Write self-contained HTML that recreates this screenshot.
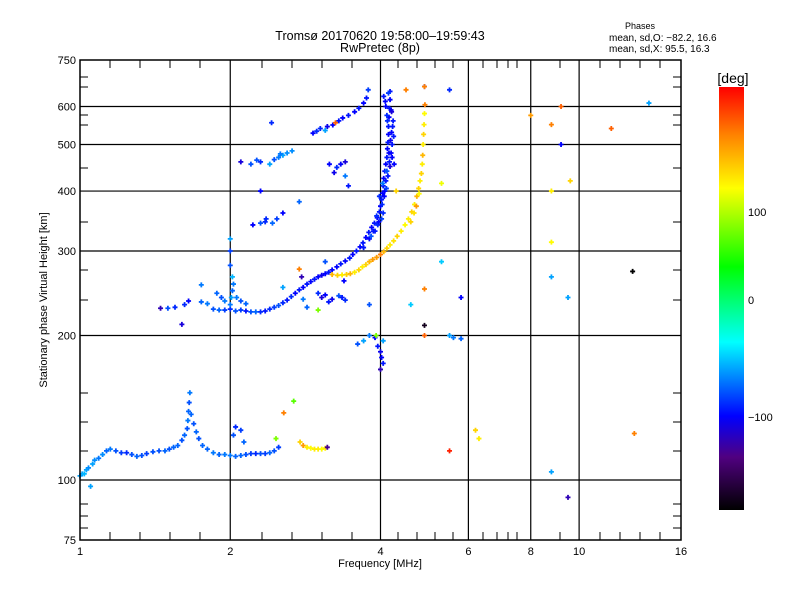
<!DOCTYPE html>
<html><head><meta charset="utf-8"><style>
body{margin:0;background:#fff;}
svg{display:block;font-family:"Liberation Sans",sans-serif;}
</style></head><body>
<svg id="chart" width="800" height="600" viewBox="0 0 800 600" xmlns="http://www.w3.org/2000/svg">
<defs>
<linearGradient id="cbar" x1="0" y1="1" x2="0" y2="0">
<stop offset="0" stop-color="#000000"/>
<stop offset="0.125" stop-color="#500080"/>
<stop offset="0.222" stop-color="#0000ff"/>
<stop offset="0.397" stop-color="#00ffff"/>
<stop offset="0.575" stop-color="#00ff00"/>
<stop offset="0.761" stop-color="#ffff00"/>
<stop offset="0.889" stop-color="#ff8000"/>
<stop offset="1" stop-color="#ff0000"/>
</linearGradient>
</defs>
<text x="380" y="40" font-size="12.5" text-anchor="middle">Tromsø 20170620 19:58:00–19:59:43</text>
<text x="380" y="52" font-size="12.5" text-anchor="middle">RwPretec (8p)</text>
<text x="640" y="29" font-size="9" text-anchor="middle">Phases</text>
<text x="609" y="41" font-size="10">mean, sd,O: −82.2, 16.6</text>
<text x="609" y="52" font-size="10">mean, sd,X:  95.5, 16.3</text>
<g id="grid"></g>
<g id="ticks"></g>
<g id="marks"></g>
<rect x="80" y="60" width="601" height="480" fill="none" stroke="#000" stroke-width="1.5"/>
<text x="380" y="567" font-size="11" text-anchor="middle">Frequency [MHz]</text>
<text transform="translate(47,300) rotate(-90)" font-size="11" text-anchor="middle">Stationary phase Virtual Height [km]</text>
<rect x="719" y="87" width="25" height="423" fill="url(#cbar)"/>
<text x="733" y="83" font-size="14" text-anchor="middle">[deg]</text>
<text x="748" y="216" font-size="11">100</text>
<text x="748" y="304" font-size="11">0</text>
<text x="748" y="421" font-size="11">−100</text>
</svg>
<script>
const xTickVals=[1,2,4,6,8,10,16];
const yTickVals=[75,100,200,300,400,500,600,750];
const xGridVals=[2,4,6,8,10];
const yGridVals=[100,200,300,400,500,600];
const freq=[1.00,1.01,1.02,1.03,1.04,1.06,1.07,1.09,1.11,1.13,1.15,1.18,1.21,1.24,1.27,1.30,1.33,1.36,1.40,1.44,1.48,1.51,1.54,1.57,1.60,1.62,1.64,1.645,1.65,1.655,1.66,1.67,1.69,1.71,1.73,1.76,1.80,1.85,1.90,1.95,2.00,2.05,2.10,2.15,2.20,2.25,2.30,2.35,2.40,2.45,2.50,
2.76,2.80,2.85,2.90,2.95,3.00,3.05,3.10,3.13,2.03,2.05,2.10,2.13,2.56,2.68,2.47,
1.85,1.90,1.95,2.00,2.05,2.10,2.15,2.20,2.25,2.30,2.35,2.40,2.45,2.50,2.55,2.60,2.65,2.70,2.75,2.80,2.85,2.90,2.95,3.00,3.05,3.10,3.15,3.20,3.27,3.33,3.40,3.47,3.52,3.58,3.64,3.69,3.74,3.79,3.84,3.89,3.94,3.98,4.00,4.02,4.04,4.05,4.06,4.08,4.10,4.12,4.13,4.14,4.15,4.15,4.16,4.17,4.18,4.18,
3.95,3.90,4.08,4.10,4.12,4.17,4.20,4.22,4.21,4.24,4.20,4.05,3.80,3.70,3.98,
4.03,4.07,4.11,4.14,4.18,4.22,4.25,4.13,4.10,4.06,4.02,3.97,3.93,3.87,3.83,4.16,4.19,4.23,4.12,4.09,4.15,4.21,4.26,4.04,
2.00,2.01,2.02,2.03,2.02,2.00,2.00,2.00,1.95,1.92,1.88,2.06,2.10,2.15,1.80,1.75,
1.45,1.50,1.55,1.62,1.65,1.75,1.60,
3.20,3.28,3.35,3.42,3.48,3.55,3.62,3.68,3.74,3.80,3.86,3.93,4.00,4.06,4.12,4.18,4.25,4.32,4.40,4.48,4.55,4.62,4.68,4.73,4.77,4.80,4.83,4.85,4.86,4.87,4.88,4.89,4.90,4.91,4.60,4.72,4.78,4.67,
2.93,3.03,3.13,3.21,3.30,3.36,3.45,3.55,3.62,3.70,3.75,3.78,2.98,3.10,3.25,
2.26,2.30,2.40,2.45,2.50,2.55,2.60,2.10,2.20,2.30,2.35,2.43,2.48,2.55,2.22,2.75,3.27,3.33,3.40,3.23,3.40,3.45,2.42,2.30,
2.36,2.52,2.66,3.16,
3.00,3.05,3.10,3.15,3.20,3.30,3.35,3.40,2.80,2.85,3.00,2.75,2.78,3.10,3.38,3.80,
3.90,3.95,4.00,4.02,4.05,4.00,3.92,4.05,3.80,3.60,3.70,5.50,5.60,5.80,5.80,4.90,4.90,4.90,5.30,4.90,5.50,4.50,4.90,4.30,5.30,6.20,6.30,5.50,8.00,8.80,9.20,9.20,9.60,8.80,8.80,8.80,9.50,11.6,12.8,12.9,13.8,8.80,9.50,1.05,4.60,2.55];
const height=[102,103,103,105,106,108,110,111,113,115,116,115,114,114,113,112,112.5,113.5,114.5,115,115,116,117,118,121,124,128,133,139,145,152,137,131,126,122,118,116,114,113,113,112.5,112,112.5,113,113.5,113.5,113.5,113.5,114,115,117,
120,118,117,116.5,116,116,116,116.5,117,124,129,127,120,138,146,122,
227,226,226,227,225,226,225,224,224,224,225,227,229,231,234,237,241,245,249,252,256,259,262,265,267,269,271,274,278,282,286,290,295,300,306,312,320,328,336,343,352,362,372,384,396,410,425,440,455,470,490,505,525,545,570,595,620,645,
340,330,400,420,440,460,480,500,530,560,590,360,318,305,390,
375,390,405,430,450,470,520,560,600,630,350,345,355,330,322,480,510,545,575,615,640,585,455,415,
232,240,248,256,265,280,300,318,236,240,245,240,236,233,233,235,
228,228,229,232,236,255,211,
268,267,267.5,268,269,271,274,278,281,285,288,291,295,299,304,309,315,322,330,340,350,362,375,390,405,420,435,455,475,500,525,550,580,605,345,372,395,360,
528,540,545,549,560,568,575,585,595,610,625,650,533,535,555,
464,460,455,465,470,475,480,460,455,343,345,343,350,360,340,380,448,455,460,437,430,410,555,400,
350,478,485,455,
245,240,243,235,238,242,240,237,238,229,226,275,265,285,260,232,
198,190,185,180,175,170,200,195,200,192,195,200,198,197,240,210,200,250,285,660,650,650,660,400,415,127,122,115,575,550,600,500,420,400,313,265,240,540,272,125,610,104,92,97,232,252];
const phase=[-60,-60,-55,-60,-65,-60,-65,-70,-65,-75,-70,-80,-85,-90,-80,-75,-80,-85,-80,-80,-75,-80,-75,-75,-80,-75,-80,-70,-75,-80,-70,-75,-80,-75,-80,-75,-75,-70,-75,-70,-70,-75,-75,-80,-85,-90,-80,-85,-75,-80,-85,
110,130,100,95,100,100,95,100,-130,-80,-90,-85,-75,140,50,60,
-80,-75,-85,-90,-80,-85,-95,-80,-75,-90,-95,-90,-85,-80,-90,-95,-90,-100,-95,-100,-95,-100,-95,-100,-105,-100,-95,-100,-100,-95,-100,-95,-100,-95,-100,-95,-100,-95,-100,-95,-100,-95,-100,-95,-100,-95,-100,-95,-100,-95,-100,-95,-100,-95,-100,-95,-100,-95,
-90,-95,-100,-95,-80,-95,-100,-95,-100,-95,-100,-90,-100,-95,-90,
-90,-100,-85,-95,-110,-100,-95,-90,-100,-95,-85,-100,-90,-95,-80,-100,-105,-95,-90,-100,-85,-110,-100,-70,
-70,-60,-75,-70,-55,-80,-85,-60,-70,-80,-75,-70,-80,-75,-70,-75,
-120,-80,-90,-90,-100,-70,-110,
120,110,100,110,120,100,110,100,110,120,130,130,140,120,110,100,105,110,100,95,100,110,100,120,110,100,110,100,120,100,110,100,95,140,110,130,95,105,
-100,-90,-105,-100,-95,-100,-95,-100,-95,-100,-95,-85,-90,-60,150,
-80,-90,-60,-80,-70,-60,-65,-110,-80,-80,-90,-75,-85,-100,-100,-75,-90,-100,-110,-105,-70,-95,-90,-100,
-90,-70,-65,-100,
-90,-110,-100,-95,-105,-80,-95,-90,-70,-75,60,140,-120,-80,-100,-80,
-100,-95,-105,-100,-95,-120,60,-60,-70,-80,-60,-60,-70,-75,-100,-170,150,140,-50,-100,-90,140,140,110,90,110,100,170,130,140,150,-100,110,100,95,-60,-60,150,-180,140,-60,-60,-120,-60,-50,-60];

const NS='http://www.w3.org/2000/svg';
const X0=80,X1=681,Y0=540,Y1=60;
function xScale(f){return X0+(X1-X0)*Math.log2(f)/4;}
function yScale(h){return Y0-(Y0-Y1)*Math.log10(h/75);}
const stops=[[-180,[0,0,0]],[-135,[80,0,128]],[-100,[0,0,255]],[-37,[0,255,255]],[27,[0,255,0]],[94,[255,255,0]],[140,[255,128,0]],[180,[255,0,0]]];
function color(p){
  for(let i=0;i<stops.length-1;i++){
    const a=stops[i],b=stops[i+1];
    if(p<=b[0]){const t=Math.max(0,(p-a[0])/(b[0]-a[0]));
      const c=a[1].map((v,k)=>Math.round(v+(b[1][k]-v)*t));return 'rgb('+c.join(',')+')';}
  }
  return 'rgb(255,0,0)';
}
function el(tag,attrs,parent){const e=document.createElementNS(NS,tag);for(const k in attrs)e.setAttribute(k,attrs[k]);parent.appendChild(e);return e;}
const grid=document.getElementById('grid');
xGridVals.forEach(v=>{const l=el('line',{x1:xScale(v),x2:xScale(v),y1:Y1,y2:Y0,stroke:'#000','stroke-width':1.2},grid);

});
yGridVals.forEach(v=>{const l=el('line',{x1:X0,x2:X1,y1:yScale(v),y2:yScale(v),stroke:'#000','stroke-width':1.2},grid);

});
const ticks=document.getElementById('ticks');
xTickVals.forEach(v=>{const t=el('text',{x:xScale(v),y:555,'font-size':11,'text-anchor':'middle'},ticks);t.textContent=v;

});
yTickVals.forEach(v=>{const t=el('text',{x:76,y:yScale(v)+4,'font-size':11,'text-anchor':'end'},ticks);t.textContent=v;

});
const xMinorPx=[110,140,170,200,262,292,322,352,398,417,435,453,483,497,508,517,560,600,620,640,660];
xMinorPx.forEach(px=>{el('line',{x1:px,x2:px,y1:Y0,y2:Y0-8,stroke:'#000'},ticks);el('line',{x1:px,x2:px,y1:Y1,y2:Y1+8,stroke:'#000'},ticks);});
const yMinorPx=[528,516,504,451,422,393,300,270,222,168,125,115,87,77];
yMinorPx.forEach(py=>{el('line',{x1:X0,x2:X0+8,y1:py,y2:py,stroke:'#000'},ticks);el('line',{x1:X1,x2:X1-8,y1:py,y2:py,stroke:'#000'},ticks);});
const marks=document.getElementById('marks');
for(let i=0;i<freq.length;i++){
  const x=xScale(freq[i]),y=yScale(height[i]),c=color(phase[i]);
  const p=el('path',{d:`M${x-2.5} ${y}H${x+2.5}M${x} ${y-2.5}V${y+2.5}`,stroke:c,'stroke-width':1.8,fill:'none'},marks);
  
  
}
</script>
</body></html>
